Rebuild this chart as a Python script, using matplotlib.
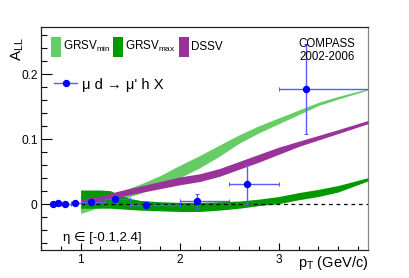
import matplotlib
matplotlib.use("Agg")
import matplotlib.pyplot as plt
from matplotlib.patches import Rectangle
from matplotlib.lines import Line2D
from matplotlib.ticker import MultipleLocator, FuncFormatter
import numpy as np

plt.rcParams['font.family'] = ['Liberation Sans', 'DejaVu Sans']
plt.rcParams['mathtext.fontset'] = 'custom'
plt.rcParams['mathtext.rm'] = 'Liberation Sans'
plt.rcParams['mathtext.it'] = 'Liberation Sans:italic'

# ---- data: COMPASS points ----
pt = [0.72, 0.77, 0.84, 0.94, 1.10, 1.35, 1.66, 2.17, 2.68, 3.27]
pt_lo = [0.70, 0.75, 0.80, 0.90, 1.00, 1.25, 1.50, 2.00, 2.50, 3.00]
pt_hi = [0.75, 0.80, 0.90, 1.00, 1.25, 1.50, 2.00, 2.50, 3.00, 4.00]
all_vals = [0.0000, 0.0020, 0.0000, 0.0020, 0.0035, 0.0077, -0.0010, 0.0046, 0.0310, 0.1770]
all_err = [0.0020, 0.0020, 0.0020, 0.0020, 0.0025, 0.0040, 0.0050, 0.0108, 0.0300, 0.0690]

# ---- theory bands ----
grsv_min_x = [1.0, 1.2, 1.4, 1.6, 1.8, 2.0, 2.2, 2.4, 2.6, 2.8, 3.0, 3.2, 3.4, 3.6, 3.9]
grsv_min_lo = [-0.014, -0.004, 0.007, 0.017, 0.028, 0.041, 0.056, 0.074, 0.094, 0.110, 0.124, 0.138, 0.152, 0.162, 0.176]
grsv_min_hi = [0.010, 0.012, 0.020, 0.031, 0.044, 0.060, 0.075, 0.091, 0.107, 0.121, 0.133, 0.145, 0.157, 0.166, 0.178]

dssv_x = [1.0, 1.2, 1.4, 1.6, 1.8, 2.0, 2.2, 2.4, 2.6, 2.8, 3.0, 3.2, 3.4, 3.6, 3.9]
dssv_lo = [0.0015, 0.006, 0.012, 0.018, 0.024, 0.030, 0.035, 0.043, 0.054, 0.065, 0.077, 0.089, 0.099, 0.109, 0.124]
dssv_hi = [0.0077, 0.013, 0.021, 0.028, 0.035, 0.042, 0.047, 0.055, 0.066, 0.077, 0.088, 0.097, 0.106, 0.115, 0.129]

grsv_max_x = [1.0, 1.1, 1.2, 1.3, 1.4, 1.5, 1.6, 1.8, 2.0, 2.2, 2.4, 2.6, 2.8, 3.0, 3.2, 3.4, 3.6, 3.9]
grsv_max_hi = [0.022, 0.022, 0.022, 0.021, 0.014, 0.009, 0.006, 0.004, 0.003, 0.003, 0.004, 0.005, 0.008, 0.012, 0.018, 0.023, 0.029, 0.041]
grsv_max_lo = [-0.006, -0.006, -0.006, -0.006, -0.007, -0.008, -0.009, -0.010, -0.011, -0.011, -0.009, -0.006, -0.002, 0.001, 0.007, 0.012, 0.019, 0.036]

x_ticks = [1, 2, 3]
y_ticks = [0, 0.1, 0.2]

C_LIGHT = '#66cc66'
C_DARK = '#009900'
C_PURP = '#993399'
C_BLUE = '#0000ff'
C_EBAR = '#5a5aff'

W, H = 409, 278
fig = plt.figure(figsize=(W / 100, H / 100), dpi=100)
def fx(px): return px / W
def fy(py): return 1 - py / H

ax = fig.add_axes([fx(41), fy(250), fx(368) - fx(41), fy(27) - fy(250)])
ax.set_xlim(0.6, 3.9)
ax.set_ylim(-0.0703, 0.2728)

ax.fill_between(grsv_min_x, grsv_min_lo, grsv_min_hi, color=C_LIGHT, lw=0, zorder=2)
ax.fill_between(grsv_max_x, grsv_max_lo, grsv_max_hi, color=C_DARK, lw=0, zorder=3)
ax.fill_between(dssv_x, dssv_lo, dssv_hi, color=C_PURP, lw=0, zorder=4)

ax.plot([1.0, 3.9], [0, 0], color='black', ls=(0, (3, 3)), lw=0.9, zorder=5)

pt_a = np.array(pt)
xerr = [pt_a - np.array(pt_lo), np.array(pt_hi) - pt_a]
ax.errorbar(pt, all_vals, xerr=xerr, yerr=all_err, fmt='o', color=C_BLUE,
            ecolor=C_EBAR, elinewidth=1.0, capsize=1.2, capthick=0.8,
            ms=4.3, mec=C_BLUE, zorder=6, clip_on=True)

ax.xaxis.set_major_locator(MultipleLocator(1))
ax.xaxis.set_minor_locator(MultipleLocator(0.2))
ax.yaxis.set_major_locator(MultipleLocator(0.1))
ax.yaxis.set_minor_locator(MultipleLocator(0.02))
ax.set_xticks(x_ticks)
ax.set_yticks(y_ticks)
ax.yaxis.set_major_formatter(FuncFormatter(lambda v, p: '0' if abs(v) < 1e-9 else f'{v:g}'))
ax.tick_params(axis='both', which='both', direction='in', top=False, right=False)
ax.tick_params(axis='y', which='major', length=8, width=0.8, labelsize=8.6, pad=2.5)
ax.tick_params(axis='y', which='minor', length=4, width=0.8)
ax.tick_params(axis='x', which='major', length=5, width=0.8, labelsize=8.6, pad=3)
ax.tick_params(axis='x', which='minor', length=3, width=0.8)
for s in ax.spines.values():
    s.set_linewidth(0.9)
    s.set_color('#222222')
ax.spines['right'].set_color('#888888')

# axis titles
fig.text(fx(10), fy(37), r'A$_{\mathrm{LL}}$', rotation=90, ha='left', va='top', fontsize=11)
fig.text(fx(368), fy(267.5), r'p$_{\mathrm{T}}$ (GeV/c)', ha='right', va='baseline', fontsize=10.5)

# legend boxes
leg = [(51, C_LIGHT, r'GRSV$_{\mathrm{min}}$'), (113, C_DARK, r'GRSV$_{\mathrm{max}}$'), (179, C_PURP, 'DSSV')]
for x0, col, lab in leg:
    fig.patches.append(Rectangle((fx(x0), fy(57)), fx(10), fy(37) - fy(57), transform=fig.transFigure,
                                 color=col, lw=0))
    fig.text(fx(x0 + 12), fy(50), lab, ha='left', va='baseline', fontsize=8.4)

fig.lines.append(Line2D([fx(54), fx(77)], [fy(83), fy(83)], transform=fig.transFigure, color=C_EBAR, lw=1))
fig.lines.append(Line2D([fx(65.5)], [fy(83)], transform=fig.transFigure, color=C_BLUE, marker='o', ms=4.3))
fig.text(fx(82), fy(89.3), "\u03bc d \u2192 \u03bc' h X", ha='left', va='baseline', fontsize=10.6)

fig.text(fx(326.7), fy(47), 'COMPASS', ha='center', va='baseline', fontsize=8.3)
fig.text(fx(326.7), fy(60), '2002-2006', ha='center', va='baseline', fontsize=8.3)

fig.text(fx(63), fy(241), '\u03b7 \u2208 [-0.1,2.4]', ha='left', va='baseline', fontsize=9.5)

fig.savefig('out.png', dpi=100)
